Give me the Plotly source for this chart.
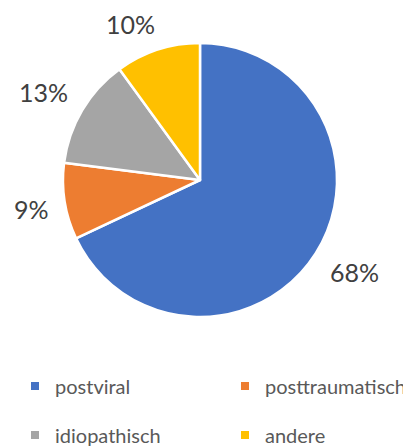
import math
import plotly.graph_objects as go

labels = ["postviral", "posttraumatisch", "idiopathisch", "andere"]
values = [68, 9, 13, 10]
colors = ["#4472C4", "#ED7D31", "#A5A5A5", "#FFC000"]

# The page body has an 8px margin; the figure is a little larger than the
# visible window so that the bottom/right legends are not clipped by plotly.
OFF = 8
W, H = 420, 462


def fx(x):
    return (x - OFF) / W


def fy(y):
    return 1 - (y - OFF) / H


cx_px, cy_px, r_px = 200, 180, 137   # pie centre / radius in window pixels
label_dist = 154
char_w, text_h = 16, 19

fig = go.Figure()
fig.add_trace(go.Pie(
    labels=labels, values=values, sort=False, direction="clockwise", rotation=0,
    marker=dict(colors=colors, line=dict(color="white", width=2.5)),
    textinfo="none", hoverinfo="label+percent", showlegend=False,
    domain=dict(x=[fx(cx_px - r_px), fx(cx_px + r_px)],
                y=[fy(cy_px + r_px), fy(cy_px - r_px)]),
))

# percentage labels outside each slice
total = sum(values)
cum = 0
for lab, v in zip(labels, values):
    theta = 2 * math.pi * (cum + v / 2) / total
    cum += v
    sx, sy = math.sin(theta), -math.cos(theta)  # screen direction (y down)
    txt = f"{round(100 * v / total)}%"
    w = char_w * len(txt)
    kx = max(-1.0, min(1.0, 3 * sx))
    ky = max(-1.0, min(1.0, 3 * sy))
    px = cx_px + label_dist * sx + kx * w / 2
    py = cy_px + label_dist * sy + ky * text_h / 2
    fig.add_annotation(x=fx(px), y=fy(py), xref="paper", yref="paper",
                       text=txt, showarrow=False,
                       xanchor="center", yanchor="middle", borderpad=0,
                       font=dict(family="Lato", size=25, color="#404040"))

# legend: 2 x 2 grid, one legend per entry
legend_ids = ["legend", "legend2", "legend3", "legend4"]
for lab, c, lg in zip(labels, colors, legend_ids):
    fig.add_trace(go.Scatter(x=[None], y=[None], mode="markers", name=lab,
                             marker=dict(symbol="square", size=8, color=c),
                             legend=lg, hoverinfo="skip"))

col_x = [15, 225]
row_y = [386, 435]
leg_common = dict(orientation="h", xanchor="left", yanchor="middle",
                  bgcolor="rgba(0,0,0,0)",
                  font=dict(family="Lato", size=20, color="#595959"))
legs = {}
for i, lg in enumerate(legend_ids):
    legs[lg] = dict(x=fx(col_x[i % 2]), y=fy(row_y[i // 2]), **leg_common)

fig.update_layout(
    width=W, height=H,
    margin=dict(l=0, r=0, t=0, b=0, autoexpand=False),
    paper_bgcolor="white", plot_bgcolor="white",
    xaxis=dict(visible=False), yaxis=dict(visible=False),
    **legs,
)
fig.write_html("out.html")
